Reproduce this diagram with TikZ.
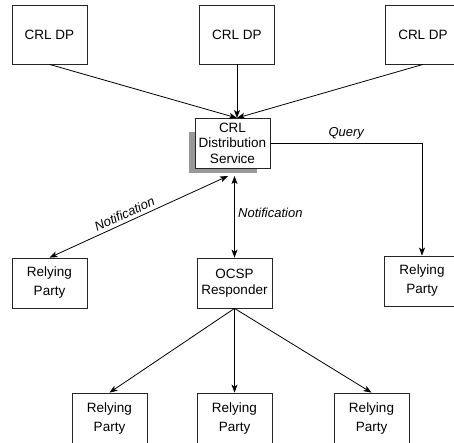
\documentclass[tikz,border=0pt]{standalone}
\usepackage{fontspec}
\setsansfont{Liberation Sans}
\usetikzlibrary{arrows.meta}

\begin{document}
\begin{tikzpicture}[x=1pt,y=-1pt,->,>={Stealth[length=8pt,width=6pt,inset=2pt]},
  line width=0.8pt,
  main node/.style={rectangle,draw=black!85,fill=white,minimum width=75pt,
    minimum height=50pt,inner sep=0pt,align=center,
    font=\sffamily\fontsize{13.5}{15.5}\selectfont},
  party node/.style={main node,font=\sffamily\fontsize{13.5}{19}\selectfont},
  label node/.style={font=\sffamily\itshape\fontsize{13}{15}\selectfont}]

  \useasboundingbox (0,0) rectangle (454,442);
  \clip (0,0) rectangle (454,442);

  % distribution points
  \node[main node, minimum height=59pt] (1) at (49.5,34.5) {CRL DP};
  \node[main node, minimum height=59pt] (2) at (237,34.5) {CRL DP};
  \node[main node, minimum height=59pt] (3) at (423,34.5) {CRL DP};

  % service with its shadow
  \fill[black!40] (189,132) rectangle (257,173);
  \node[main node] (4) at (232.5,143) {CRL\\Distribution\\Service};

  \node[party node] (5) at (49.5,283) {Relying\\Party};
  \node[main node] (6) at (234.5,283) {OCSP\\Responder};
  \node[party node] (7) at (422,281) {Relying\\Party};

  \node[party node] (8) at (109.5,418) {Relying\\Party};
  \node[party node] (9) at (234.5,418) {Relying\\Party};
  \node[party node] (10) at (371.5,418) {Relying\\Party};

  \coordinate (top) at (237,118);
  \coordinate (s1) at (228,176);
  \coordinate (s2) at (234.5,176);

  \path
    (1.south) edge (top)
    (2.south) edge (top)
    (3.south) edge (top)
    (6.south) edge (8.north)
    (6.south) edge (9.north)
    (6.south) edge (10.north);

  \draw (4.east) -| node[label node, pos=0.25, above] {Query} (7.north);
  \draw[<->] (s1) -- node[label node, pos=0.56, sloped, above] {Notification} (5.north);
  \draw[<->] (s2) -- node[label node, pos=0.45, right] {Notification} (6.north);
\end{tikzpicture}
\end{document}
